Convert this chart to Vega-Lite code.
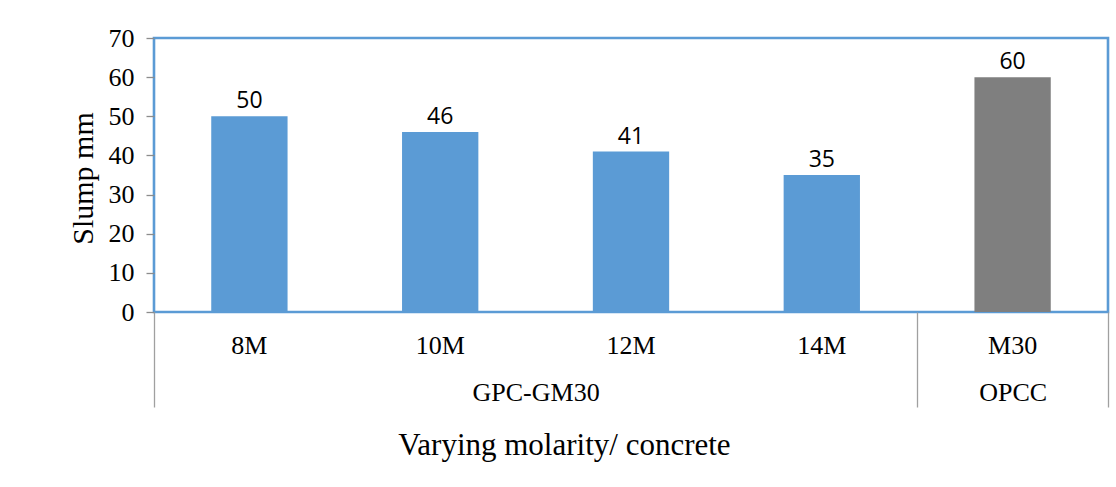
{
  "$schema": "https://vega.github.io/schema/vega-lite/v6.json",
  "width": 954,
  "height": 274,
  "autosize": {"type": "none"},
  "padding": {"left": 154, "top": 38, "right": 8, "bottom": 175},
  "background": "white",
  "config": {
    "view": {"stroke": "#5B9BD5", "strokeWidth": 2.6},
    "axis": {"labelColor": "black", "titleColor": "black", "titleFontWeight": "normal"}
  },
  "resolve": {"scale": {"x": "independent"}, "axis": {"x": "independent"}},
  "layer": [
    {
      "data": {
        "values": [
          {"category": "8M", "group": "GPC-GM30", "slump": 50},
          {"category": "10M", "group": "GPC-GM30", "slump": 46},
          {"category": "12M", "group": "GPC-GM30", "slump": 41},
          {"category": "14M", "group": "GPC-GM30", "slump": 35},
          {"category": "M30", "group": "OPCC", "slump": 60}
        ]
      },
      "encoding": {
        "x": {
          "field": "category",
          "type": "nominal",
          "sort": null,
          "scale": {"paddingInner": 0, "paddingOuter": 0},
          "axis": {
            "orient": "bottom",
            "labelAngle": 0,
            "ticks": false,
            "domain": false,
            "grid": false,
            "labelPadding": 41,
            "labelBaseline": "alphabetic",
            "labelFont": "Liberation Serif",
            "labelFontSize": 26,
            "title": "Varying molarity/ concrete",
            "titleFont": "Liberation Serif",
            "titleFontSize": 31,
            "titleX": 410,
            "titleY": 142,
            "titleAlign": "center",
            "titleBaseline": "alphabetic"
          }
        },
        "y": {
          "field": "slump",
          "type": "quantitative",
          "scale": {"domain": [0, 70], "nice": false},
          "axis": {
            "values": [0, 10, 20, 30, 40, 50, 60, 70],
            "labelOverlap": false,
            "labelFlush": false,
            "domain": false,
            "grid": false,
            "tickSize": 8,
            "tickColor": "#8c8c8c",
            "tickWidth": 1.3,
            "labelPadding": 12,
            "labelFont": "Liberation Serif",
            "labelFontSize": 26,
            "title": "Slump mm",
            "titleFont": "Liberation Serif",
            "titleFontSize": 30,
            "titleX": -62,
            "titleY": 140,
            "titleAngle": -90,
            "titleAlign": "center",
            "titleBaseline": "alphabetic"
          }
        }
      },
      "layer": [
        {
          "mark": {"type": "bar", "width": {"band": 0.4}},
          "encoding": {
            "color": {
              "field": "group",
              "type": "nominal",
              "scale": {"domain": ["GPC-GM30", "OPCC"], "range": ["#5B9BD5", "#7F7F7F"]},
              "legend": null
            }
          }
        },
        {
          "mark": {"type": "text", "font": "Open Sans", "fontSize": 23, "baseline": "alphabetic", "dy": -8, "color": "black"},
          "encoding": {
            "text": {"field": "slump", "type": "quantitative"}
          }
        }
      ]
    },
    {
      "data": {
        "values": [
          {"group": "GPC-GM30", "start": 0, "end": 4},
          {"group": "OPCC", "start": 4, "end": 5}
        ]
      },
      "mark": {"type": "rect", "opacity": 0},
      "encoding": {
        "x": {
          "field": "start",
          "type": "quantitative",
          "scale": {"domain": [0, 5], "nice": false, "zero": false},
          "axis": {
            "orient": "bottom",
            "values": [0, 2, 4, 4.5, 5],
            "labelExpr": "datum.value == 2 ? 'GPC-GM30' : (datum.value == 4.5 ? 'OPCC' : '')",
            "tickSize": 95,
            "tickColor": "#a0a0a0",
            "tickWidth": 1.3,
            "tickOpacity": {"condition": {"test": "datum.value == 2 || datum.value == 4.5", "value": 0}, "value": 1},
            "domain": false,
            "grid": false,
            "labelPadding": -6.5,
            "labelBaseline": "alphabetic",
            "labelFont": "Liberation Serif",
            "labelFontSize": 26,
            "labelFlush": false,
            "labelOverlap": false,
            "labelBound": false,
            "title": null
          }
        },
        "x2": {"field": "end"}
      }
    }
  ]
}
